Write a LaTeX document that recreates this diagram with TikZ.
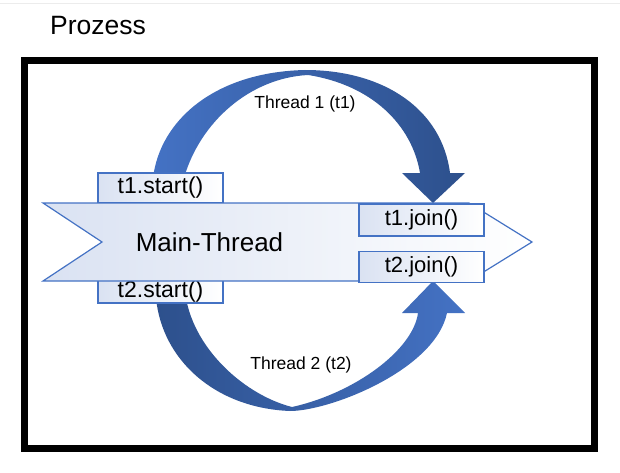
\documentclass[tikz,border=0pt]{standalone}
\usepackage{fontspec}
\setmainfont{Liberation Sans}
\usepackage{xcolor}
\usetikzlibrary{positioning}

\definecolor{linecol}{RGB}{68,114,196}
\definecolor{arclight}{RGB}{68,114,196}
\definecolor{arcdark}{RGB}{45,80,140}
\definecolor{bodyfill}{RGB}{218,226,242}
\definecolor{boxfill}{RGB}{218,226,242}

\begin{document}
\begin{tikzpicture}[x=1pt, y=-1pt,
    every node/.style={font=\fontsize{22}{26}\selectfont},
    callbox/.style={draw=linecol, line width=1.2pt, left color=boxfill, right color=white,
        minimum width=125pt, inner sep=0pt, text height=15pt, text depth=4pt},
    threadarc/.style={draw=none}]
    \useasboundingbox (0,0) rectangle (620,473);
    \draw[gray!15, line width=1pt] (0,4) -- (620,4);

    % Process frame
    \node[font=\fontsize{26.5}{30}\selectfont] (prozess) at (98,26) {Prozess};
    \draw[line width=7pt] (24.5,61) rectangle (594.5,448.5);

    % Thread arcs
    \shade[threadarc, left color=arclight, right color=arcdark]
        (153,178) .. controls (160,120) and (215,72) .. (305,70)
        .. controls (385,70) and (442,110) .. (450,173)
        -- (465,173) -- (433,203) -- (402,173) -- (420,173)
        .. controls (412,125) and (372,85) .. (308,75)
        .. controls (250,78) and (200,122) .. (184,178) -- cycle;
    \shade[threadarc, left color=arcdark, right color=arclight]
        (156,298) .. controls (162,360) and (215,408) .. (290,411)
        .. controls (330,411) and (435,370) .. (447,313)
        -- (465,313) -- (433,281) -- (402,313) -- (418,313)
        .. controls (413,350) and (355,393) .. (292,407)
        .. controls (245,395) and (195,350) .. (186,298) -- cycle;
    \node[font=\fontsize{17.5}{20}\selectfont] (thread1) at (305,104) {Thread 1 (t1)};
    \node[font=\fontsize{17.5}{20}\selectfont] (thread2) at (301,365) {Thread 2 (t2)};

    % Start calls
    \node[callbox, minimum height=30pt, font=\fontsize{23}{26}\selectfont] (t1start) at (160.5,188) {t1.start()};
    \node[callbox, minimum height=23pt, text height=15pt, text depth=4pt, font=\fontsize{23}{26}\selectfont] (t2start) at (160.5,291.5) {t2.start()};

    % Main thread
    \draw[linecol, line width=1.2pt, left color=bodyfill, right color=white]
        (43,203) -- (469,203) -- (532,242) -- (469,281) -- (43,281) -- (102,242) -- cycle;
    \node[font=\fontsize{26}{30}\selectfont] (mainthread) at (209.5,242) {Main-Thread};

    % Join calls
    \node[callbox, minimum height=32pt] (t1join) at (421.5,220) {t1.join()};
    \node[callbox, minimum height=31pt, below=14pt of t1join] (t2join) {t2.join()};
\end{tikzpicture}
\end{document}
